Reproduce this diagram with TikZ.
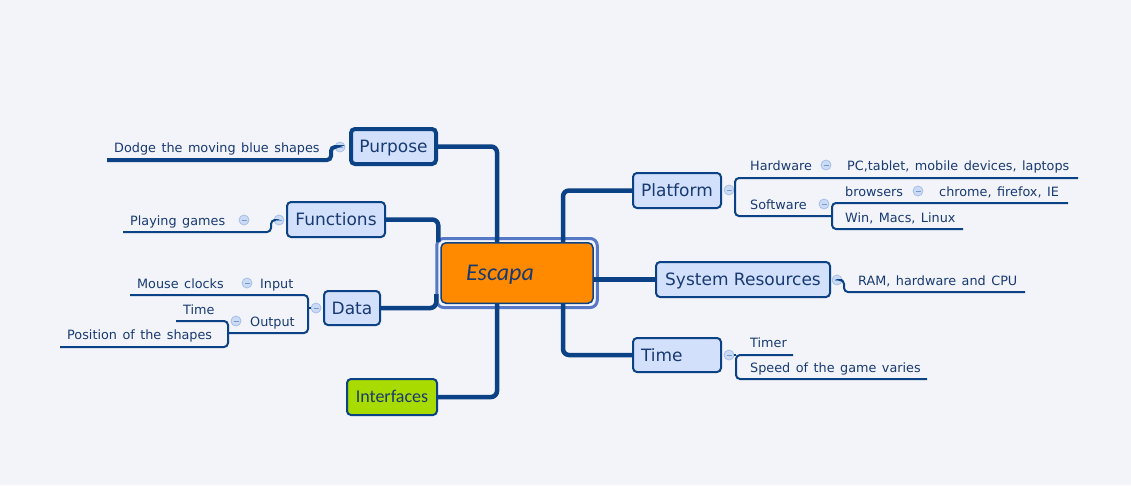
\documentclass[tikz,border=0pt]{standalone}
\usepackage{fontspec}
\setmainfont{DejaVu Sans}
\newfontfamily\itemfont{DejaVu Sans}[WordSpace=1.35]
\newfontfamily\calibfont{Carlito}
\usetikzlibrary{calc}
\definecolor{bgcol}{HTML}{F3F4FA}
\definecolor{navy}{HTML}{0B4286}
\definecolor{inkcol}{HTML}{183A72}
\definecolor{topicfill}{HTML}{D2E0FB}
\definecolor{rootfill}{HTML}{FF8A00}
\definecolor{glow}{HTML}{5678C6}
\definecolor{leaffill}{HTML}{A8DB00}
\definecolor{knobfill}{HTML}{CCDBF5}
\definecolor{knobline}{HTML}{A6BFE8}

\tikzstyle{topic}=[draw=navy, line width=2pt, fill=topicfill, rounded corners=4pt, text=inkcol, font=\fontsize{17}{20}\selectfont,
  inner sep=0pt, text height=12.4pt, text depth=0pt]
\tikzstyle{item}=[anchor=base west, inner sep=0pt, text=inkcol, font=\itemfont\fontsize{12.8}{15}\selectfont]
\tikzstyle{knob}=[circle, draw=knobline, fill=knobfill, minimum size=10pt, inner sep=0pt, line width=0.8pt,
path picture={\draw[knobline!70!navy, line width=0.8pt] ([xshift=-2.5pt]path picture bounding box.center) -- ([xshift=2.5pt]path picture bounding box.center);}]
\tikzstyle{branch}=[draw=navy, line width=4.5pt, rounded corners=6pt]
\tikzstyle{twig}=[draw=navy, line width=2pt, rounded corners=4pt]

\begin{document}
\begin{tikzpicture}[x=1pt,y=-1pt]
\fill[bgcol] (0,0) rectangle (1131,485);
\useasboundingbox (0,0) rectangle (1131,485);

% central topic
\node (escapa) at (517,273) [draw=navy, line width=1.5pt, fill=rootfill, rounded corners=5pt, minimum width=150.5pt, minimum height=60.5pt,
  text width=102pt, inner xsep=25pt, inner ysep=0pt, text height=15.5pt, text depth=0pt, align=left, text=inkcol,
  font=\calibfont\itshape\fontsize{24}{28}\selectfont] {Escapa};
\draw[glow, line width=3pt, rounded corners=7pt] ([shift={(-3.5,-3.5)}]escapa.north west) rectangle ([shift={(3.5,3.5)}]escapa.south east);

% main topics
\node (purpose) at (393.5,146.5) [topic, line width=4pt, minimum width=85pt, minimum height=35pt] {Purpose};
\node (functions) at (336,219.5) [topic, minimum width=98pt, minimum height=35pt] {Functions};
\node (data) at (352,308) [topic, minimum width=56pt, minimum height=34pt] {Data};
\node (interfaces) at (392,397) [topic, fill=leaffill, minimum width=90pt, minimum height=36pt, text height=11.8pt,
  font=\calibfont\fontsize{18}{22}\selectfont] {Interfaces};
\node (platform) at (677,190.5) [topic, minimum width=88pt, minimum height=35pt] {Platform};
\node (sysres) at (743,279.5) [topic, minimum width=174pt, minimum height=35pt] {System Resources};
\node (time) at (677,355) [topic, minimum width=88pt, minimum height=34pt, text width=72pt, inner xsep=8pt, align=left] {Time};

\draw[branch] (purpose.east) -| ([xshift=-20pt]escapa.north);
\draw[branch] (functions.east) -| ([xshift=-2pt]escapa.north west);
\draw[branch] (data.east) -| ([shift={(-4pt,10pt)}]escapa.south west);
\draw[branch] (interfaces.east) -| ([xshift=-20pt]escapa.south);
\draw[branch] ([xshift=46pt]escapa.north) |- (platform.west);
\draw[branch] (escapa.east |- sysres.west) -- (sysres.west);
\draw[branch] ([xshift=46pt]escapa.south) |- (time.west);

% subtopics, left
\node (dodge) at (114,152) [item] {Dodge the moving blue shapes};
\node (playing) at (130,225) [item] {Playing games};
\node (mouse) at (137,288) [item] {Mouse clocks};
\node (input) at (260,288) [item] {Input};
\node (timeout) at (183,314) [item] {Time};
\node (output) at (250,326) [item] {Output};
\node (position) at (67,339) [item] {Position of the shapes};

% subtopics, right
\node (hardware) at (750,170) [item] {Hardware};
\node (pcs) at (847,170) [item] {PC,tablet, mobile devices, laptops};
\node (software) at (750,209) [item] {Software};
\node (browsers) at (845,196) [item] {browsers};
\node (chrome) at (939,196) [item] {chrome, firefox, IE};
\node (oses) at (845,222) [item] {Win, Macs, Linux};
\node (ram) at (858,285) [item] {RAM, hardware and CPU};
\node (timer) at (750,347) [item] {Timer};
\node (speed) at (750,372) [item] {Speed of the game varies};

% collapse knobs
\node (kpurpose) at (340,147) [knob] {};
\node (kfunc) at (279,220) [knob] {};
\node (kplay) at (244,220) [knob] {};
\node (kdata) at (316,308) [knob] {};
\node (kinput) at (247,283) [knob] {};
\node (koutput) at (236,321) [knob] {};
\node (kplat) at (729,190) [knob] {};
\node (khard) at (826,165) [knob] {};
\node (ksoft) at (824,204) [knob] {};
\node (kbrow) at (918,191) [knob] {};
\node (ksys) at (837,280) [knob] {};
\node (ktime) at (729,355) [knob] {};

% underlines
\coordinate (dodgeend) at (107,160);
\coordinate (playend) at (123,232);
\coordinate (mouseend) at (130,295);
\coordinate (timeend) at (176,321);
\coordinate (posend) at (60,347);
\coordinate (hardend) at (1078,178);
\coordinate (browend) at (1068,203);
\coordinate (osend) at (963,229);
\coordinate (ramend) at (1025,292);
\coordinate (timerend) at (793,355);
\coordinate (speedend) at (927,379);

\draw[twig, line width=4pt] (kpurpose.west) -| (331,160) -- (dodgeend);
\draw[twig] (kfunc.west) -| (271,232) -- (playend);
\draw[twig] (mouseend) -- (308,295) -- (308,333) -- (228,333);
\draw[twig] (kdata.west) -- (308,308);
\draw[twig] (timeend) -- (228,321) -- (228,347) -- (posend);
\draw[twig] (hardend) -- (735,178) -- (735,216) -- (832,216);
\draw[twig] (kplat.east) -- (735,190);
\draw[twig] (browend) -- (832,203) -- (832,229) -- (osend);
\draw[twig] (ksys.east) -| (844,292) -- (ramend);
\draw[twig] (timerend) -- (736,355) -- (736,379) -- (speedend);
\draw[twig] (ktime.east) -- (736,355);
\end{tikzpicture}
\end{document}
